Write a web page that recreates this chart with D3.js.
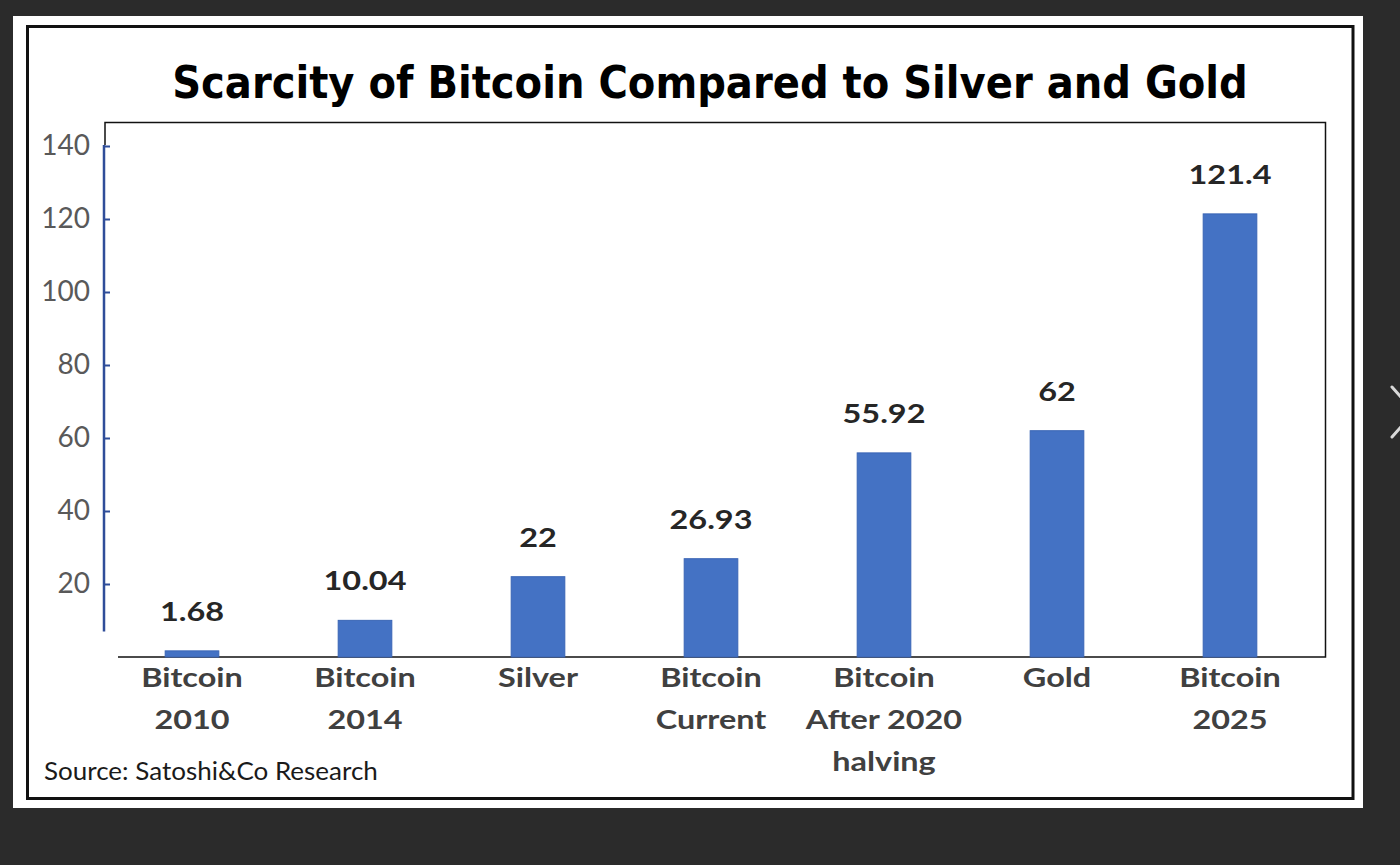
<!DOCTYPE html>
<html>
<head>
<meta charset="utf-8">
<script src="https://cdn.jsdelivr.net/npm/d3@7"></script>
<style>
  html, body { margin: 0; padding: 0; background: #2b2b2b; }
  svg { display: block; }
</style>
</head>
<body>
<script>
// data
var categories = [
  ["Bitcoin", "2010"],
  ["Bitcoin", "2014"],
  ["Silver"],
  ["Bitcoin", "Current"],
  ["Bitcoin", "After 2020", "halving"],
  ["Gold"],
  ["Bitcoin", "2025"]
]
var values = [1.68, 10.04, 22, 26.93, 55.92, 62, 121.4]
var valueLabels = ["1.68", "10.04", "22", "26.93", "55.92", "62", "121.4"]
var yTicks = [20, 40, 60, 80, 100, 120, 140]

var W = 1400, H = 865
var stretch = 1.2  // the source picture is a bit wider than tall

var svg = d3.select("body").append("svg")
    .attr("width", W)
    .attr("height", H)

svg.append("rect")
  .attr("width", W).attr("height", H)
  .attr("fill", "#2b2b2b")

// white card + black frame
svg.append("rect")
  .attr("x", 13).attr("y", 16)
  .attr("width", 1350).attr("height", 792)
  .attr("fill", "#fff")

svg.append("rect")
  .attr("x", 27.5).attr("y", 26.5)
  .attr("width", 1325.5).attr("height", 772)
  .attr("fill", "none")
  .attr("stroke", "#111")
  .attr("stroke-width", 3)

// little chevron on the right edge
svg.append("polyline")
  .attr("points", "1392,387 1414,412 1392,437")
  .attr("fill", "none")
  .attr("stroke", "#d8d8d8")
  .attr("stroke-width", 3)
  .attr("stroke-linecap", "round")

// title
var title = svg.append("text")
  .attr("x", 710).attr("y", 98)
  .attr("text-anchor", "middle")
  .attr("font-family", "DejaVu Sans")
  .attr("font-weight", "bold")
  .attr("font-size", 45)
  .attr("fill", "#000")
  .text("Scarcity of Bitcoin Compared to Silver and Gold")

var tw = title.node().getComputedTextLength()
var sx = 1076 / tw
title.attr("transform", "translate(710,0) scale(" + sx + ",1) translate(-710,0)")

// scales
var x = d3.scaleBand()
  .domain(d3.range(values.length))
  .range([105.5, 1316.5])
  .paddingInner(0.69)
  .paddingOuter(0.345)

var y = d3.scaleLinear()
  .domain([0, 140])
  .range([657, 146])

function cx(i) { return x(i) + x.bandwidth() / 2 }

// plot frame (top, right, bottom)
svg.append("path")
  .attr("d", "M105,145 V122.5 H1325.5 V657 H118")
  .attr("stroke", "#111").attr("stroke-width", 1.5).attr("fill", "none")

// bars
svg.append("g").selectAll("rect")
  .data(values)
  .join("rect")
    .attr("x", function(d, i) { return x(i) })
    .attr("y", function(d) { return y(d) })
    .attr("width", x.bandwidth())
    .attr("height", function(d) { return y(0) - y(d) })
    .attr("fill", "#4472c4")
    .attr("stroke", "#3a65b5")
    .attr("stroke-width", 1)

// value labels
svg.append("g").selectAll("g")
  .data(values)
  .join("g")
    .attr("transform", function(d, i) { return "translate(" + cx(i) + "," + (y(d) - 30) + ") scale(" + stretch + ",1)" })
  .append("text")
    .attr("text-anchor", "middle")
    .attr("font-family", "Lato")
    .attr("font-weight", "bold")
    .attr("font-size", 27)
    .attr("fill", "#262626")
    .text(function(d, i) { return valueLabels[i] })

// y axis
var yAxis = svg.append("g")
  .attr("transform", "translate(104,0)")
  .call(d3.axisLeft(y).tickValues(yTicks).tickSize(-6).tickPadding(14))

yAxis.select(".domain").remove()
yAxis.selectAll(".tick line").attr("stroke", "#2f4d99").attr("stroke-width", 2)
yAxis.selectAll(".tick text")
  .attr("font-family", "Lato")
  .attr("font-size", 28)
  .attr("fill", "#595959")

yAxis.append("line")
  .attr("x1", 0).attr("x2", 0)
  .attr("y1", y(140) - 1).attr("y2", y(7))
  .attr("stroke", "#2f4d99")
  .attr("stroke-width", 2.5)

// category labels
var cat = svg.append("g").selectAll("g")
  .data(categories)
  .join("g")
    .attr("transform", function(d, i) { return "translate(" + cx(i) + ",0) scale(" + stretch + ",1)" })
  .append("text")
    .attr("text-anchor", "middle")
    .attr("font-family", "Lato")
    .attr("font-weight", "bold")
    .attr("font-size", 27)
    .attr("fill", "#404040")

cat.selectAll("tspan")
  .data(function(d) { return d })
  .join("tspan")
    .attr("x", 0)
    .attr("y", function(d, j) { return 687 + j * 42 })
    .text(function(d) { return d })

// source
svg.append("text")
  .attr("transform", "translate(44,780) scale(1.04,1)")
  .attr("font-family", "Lato")
  .attr("font-size", 25)
  .attr("fill", "#1a1a1a")
  .text("Source: Satoshi&Co Research")
</script>
</body>
</html>
